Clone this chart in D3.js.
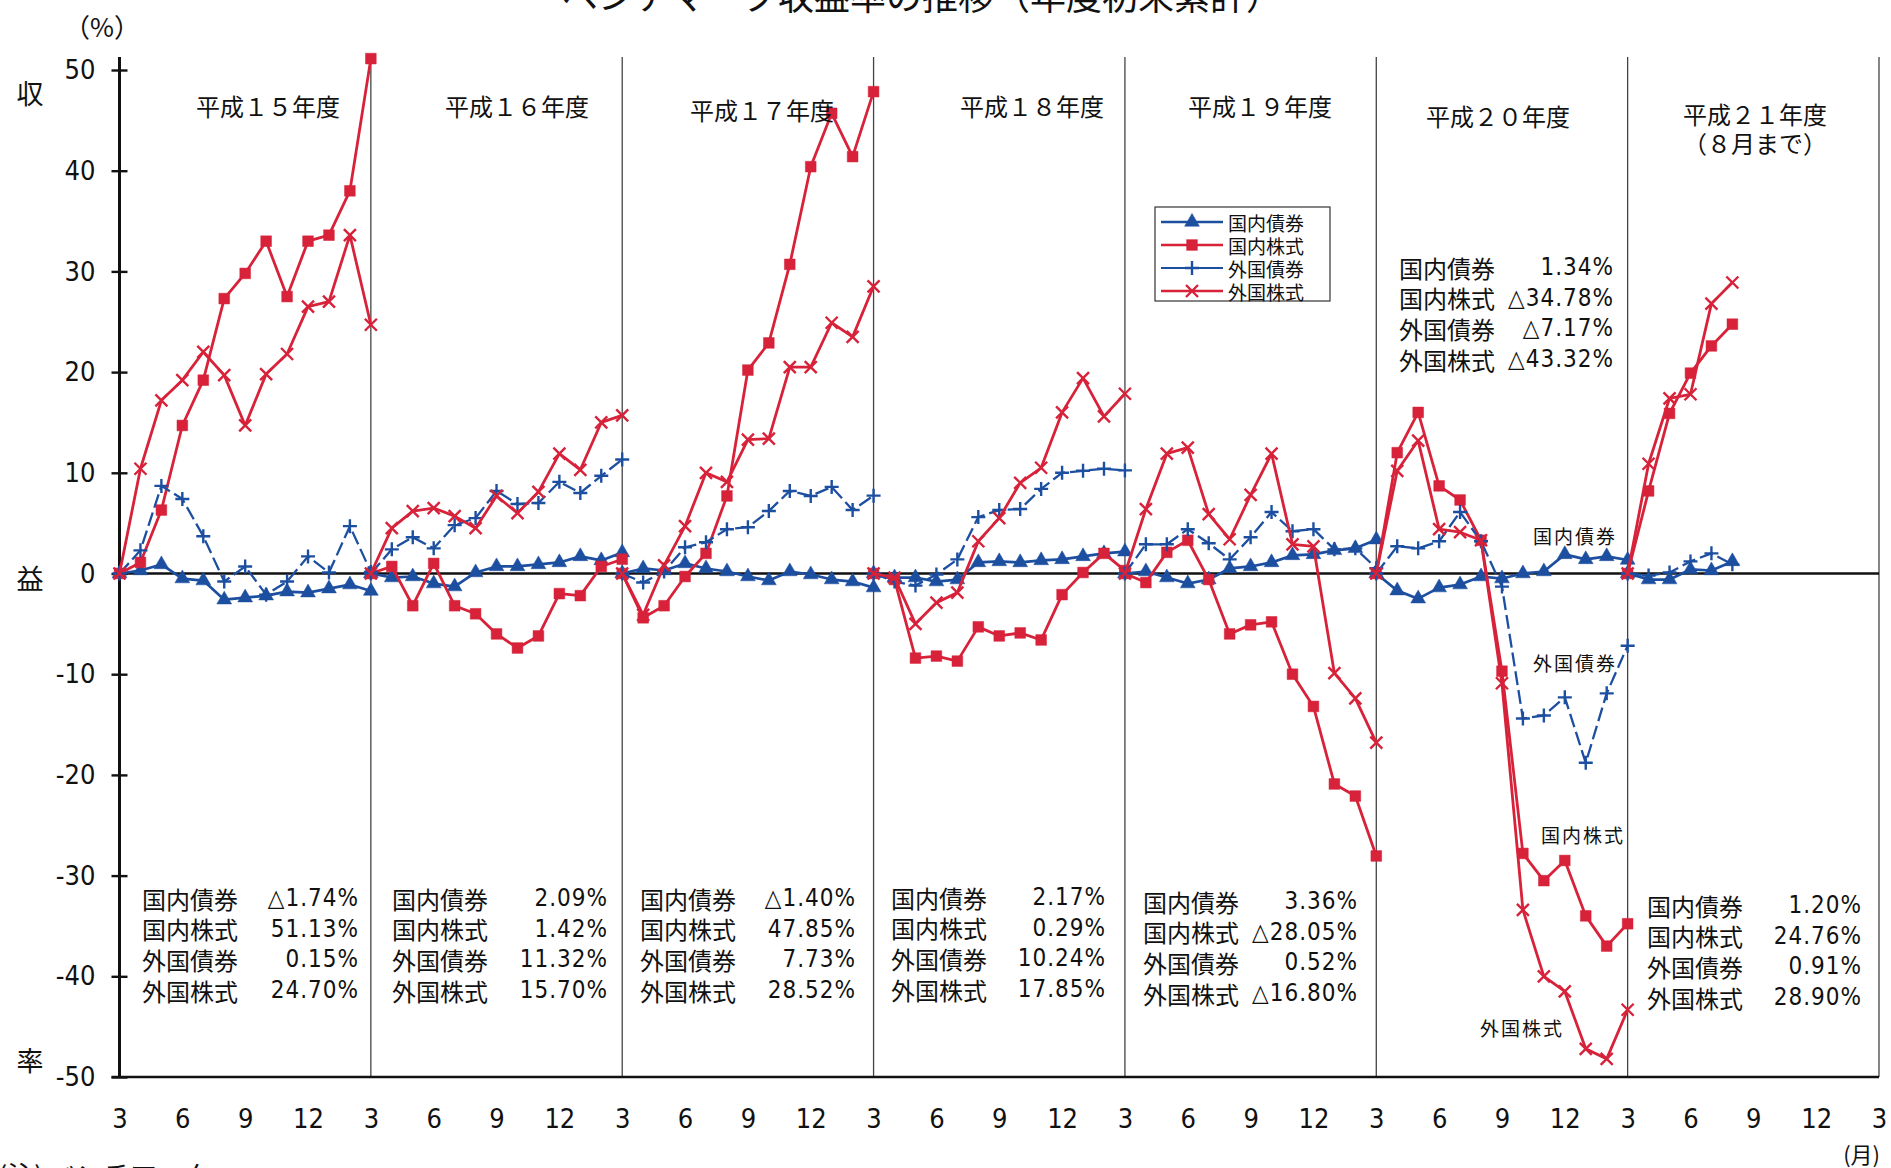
<!DOCTYPE html>
<html>
<head>
<meta charset="utf-8">
<script src="https://cdn.jsdelivr.net/npm/d3@7"></script>
<style>
  html, body { margin: 0; padding: 0; background: #fff; }
  svg { display: block; }
</style>
</head>
<body>
<svg class="chart"></svg>
<script>
//======
// Data
//======

var fiscalYears = ["平成１５年度", "平成１６年度", "平成１７年度", "平成１８年度", "平成１９年度", "平成２０年度", "平成２１年度"];
var monthTicks = ["3", "6", "9", "12"];
var seriesNames = ["国内債券", "国内株式", "外国債券", "外国株式"];

// cumulative return from start of each fiscal year (March = 0, then April ... March)
var domBond = [
  [0, 0.3, 0.9, -0.5, -0.7, -2.6, -2.4, -2.2, -1.8, -1.9, -1.5, -1.1, -1.74],
  [0, -0.4, -0.3, -1.0, -1.3, 0.1, 0.7, 0.7, 0.9, 1.1, 1.7, 1.3, 2.09],
  [0, 0.5, 0.3, 1.0, 0.5, 0.2, -0.3, -0.7, 0.2, -0.1, -0.6, -0.8, -1.40],
  [0, -0.4, -0.4, -0.8, -0.6, 1.1, 1.2, 1.1, 1.3, 1.4, 1.7, 2.0, 2.17],
  [0, 0.2, -0.4, -1.0, -0.6, 0.5, 0.7, 1.1, 1.8, 1.9, 2.3, 2.5, 3.36],
  [0, -1.7, -2.5, -1.4, -1.1, -0.3, -0.5, 0.0, 0.2, 1.9, 1.4, 1.7, 1.34],
  [0, -0.6, -0.6, 0.4, 0.3, 1.20]
];
var domStock = [
  [0, 1.1, 6.3, 14.7, 19.2, 27.3, 29.8, 33.0, 27.5, 33.0, 33.6, 38.0, 51.13],
  [0, 0.7, -3.2, 1.0, -3.2, -4.0, -6.0, -7.4, -6.2, -2.0, -2.2, 0.7, 1.42],
  [0, -4.4, -3.2, -0.3, 2.0, 7.7, 20.2, 22.9, 30.7, 40.4, 45.7, 41.4, 47.85],
  [0, -0.6, -8.4, -8.2, -8.7, -5.3, -6.2, -5.9, -6.6, -2.1, 0.1, 2.0, 0.29],
  [0, -0.9, 2.1, 3.3, -0.6, -6.0, -5.1, -4.8, -10.0, -13.2, -20.9, -22.1, -28.05],
  [0, 12.0, 16.0, 8.7, 7.3, 3.3, -9.7, -27.8, -30.5, -28.5, -34.0, -37.0, -34.78],
  [0, 8.2, 15.9, 19.9, 22.6, 24.76]
];
var forBond = [
  [0, 2.3, 8.7, 7.4, 3.7, -0.8, 0.7, -2.1, -0.8, 1.7, 0.1, 4.7, 0.15],
  [0, 2.4, 3.6, 2.5, 4.8, 5.5, 8.2, 6.9, 7.0, 9.1, 8.0, 9.7, 11.32],
  [0, -0.9, 0.2, 2.6, 3.1, 4.4, 4.6, 6.2, 8.2, 7.7, 8.6, 6.3, 7.73],
  [0, -0.8, -1.2, -0.1, 1.4, 5.6, 6.3, 6.4, 8.4, 10.0, 10.2, 10.4, 10.24],
  [0, 2.9, 2.9, 4.4, 3.0, 1.4, 3.6, 6.1, 4.2, 4.4, 2.4, 2.5, 0.52],
  [0, 2.7, 2.5, 3.2, 6.1, 3.2, -1.3, -14.4, -14.1, -12.3, -18.8, -11.9, -7.17],
  [0, -0.2, 0.1, 1.2, 2.0, 0.91]
];
var forStock = [
  [0, 10.4, 17.2, 19.2, 22.0, 19.7, 14.7, 19.8, 21.8, 26.5, 27.0, 33.6, 24.70],
  [0, 4.5, 6.2, 6.5, 5.7, 4.5, 7.7, 6.0, 8.1, 11.9, 10.3, 15.0, 15.70],
  [0, -4.1, 0.8, 4.7, 10.0, 9.1, 13.3, 13.4, 20.5, 20.5, 24.9, 23.5, 28.52],
  [0, -0.4, -5.0, -2.9, -1.9, 3.2, 5.5, 9.0, 10.5, 16.0, 19.4, 15.6, 17.85],
  [0, 6.4, 11.9, 12.5, 5.9, 3.4, 7.8, 11.9, 2.9, 2.7, -9.9, -12.4, -16.80],
  [0, 10.2, 13.2, 4.4, 4.1, 3.3, -10.9, -33.4, -40.0, -41.5, -47.2, -48.2, -43.32],
  [0, 10.9, 17.4, 17.8, 26.8, 28.90]
];

// year-end figures printed in each panel
var yearTotals = [
  ["△1.74%", "51.13%", "0.15%", "24.70%"],
  ["2.09%", "1.42%", "11.32%", "15.70%"],
  ["△1.40%", "47.85%", "7.73%", "28.52%"],
  ["2.17%", "0.29%", "10.24%", "17.85%"],
  ["3.36%", "△28.05%", "0.52%", "△16.80%"],
  ["1.34%", "△34.78%", "△7.17%", "△43.32%"],
  ["1.20%", "24.76%", "0.91%", "28.90%"]
];

//========
// Layout
//========

var W = 1891, H = 1168,
  BLUE = "#1d4fa0", RED = "#d7223a",
  JP = "'Noto Sans CJK JP','Noto Sans',sans-serif",
  NUM = "'DejaVu Sans','Liberation Sans',sans-serif";

// label x, value right edge, first row centre
var totalsPos = [
  { x: 142, xr: 359, y: 898 },
  { x: 392, xr: 608, y: 898 },
  { x: 640, xr: 856, y: 898 },
  { x: 891, xr: 1106, y: 897 },
  { x: 1143, xr: 1358, y: 901 },
  { x: 1399, xr: 1614, y: 267 },
  { x: 1647, xr: 1862, y: 905 }
];
var yearLabelPos = [
  { x: 268, y: 105 }, { x: 517, y: 105 }, { x: 762, y: 109 }, { x: 1032, y: 105 },
  { x: 1260, y: 105 }, { x: 1498, y: 115 }, { x: 1755, y: 113 }
];

var svg = d3.select(".chart")
  .attr("width", W)
  .attr("height", H)
  .style("background", "#fff");

var x = d3.scaleLinear().domain([0, 84]).range([119.5, 1879]);
var y = d3.scaleLinear().domain([-50, 50]).range([1077, 70]);

// year separators
svg.selectAll(".sep")
  .data(d3.range(1, 8))
  .enter()
  .append("line")
  .attr("x1", function(d) { return x(d * 12); })
  .attr("x2", function(d) { return x(d * 12); })
  .attr("y1", 57)
  .attr("y2", y(-50))
  .attr("stroke", "#444")
  .attr("stroke-width", 1.3);

// zero line and bottom line
svg.append("line")
  .attr("x1", x(0)).attr("x2", x(84))
  .attr("y1", y(0)).attr("y2", y(0))
  .attr("stroke", "#111").attr("stroke-width", 2.6);

svg.append("line")
  .attr("x1", x(0) - 8).attr("x2", x(84))
  .attr("y1", y(-50)).attr("y2", y(-50))
  .attr("stroke", "#111").attr("stroke-width", 2.6);

// y axis
var yAxis = svg.append("g")
  .attr("transform", "translate(" + x(0) + ",0)")
  .call(d3.axisLeft(y)
    .tickValues(d3.range(-50, 51, 10))
    .tickSize(8)
    .tickPadding(16)
    .tickFormat(function(d) { return String(d); }));

yAxis.select(".domain").remove();
yAxis.selectAll(".tick line").attr("x1", 8).attr("x2", -8).attr("stroke", "#111").attr("stroke-width", 2.4);
yAxis.selectAll(".tick text")
  .style("font-family", NUM).style("font-stretch", "condensed").style("font-size", "27px").attr("fill", "#111");

svg.append("line")
  .attr("x1", x(0)).attr("x2", x(0))
  .attr("y1", 57).attr("y2", y(-50))
  .attr("stroke", "#111").attr("stroke-width", 3);

// x axis
var xAxis = svg.append("g")
  .attr("transform", "translate(0," + y(-50) + ")")
  .call(d3.axisBottom(x)
    .tickValues(d3.range(0, 85, 3))
    .tickSize(0)
    .tickPadding(32)
    .tickFormat(function(d) { return monthTicks[(d / 3) % 4]; }));

xAxis.select(".domain").remove();
xAxis.selectAll(".tick text")
  .style("font-family", NUM).style("font-stretch", "condensed").style("font-size", "27px").attr("fill", "#111");

//========
// Series
//========

var series = [
  { name: seriesNames[0], data: domBond, color: BLUE, marker: "tri", width: 2.7, dash: null },
  { name: seriesNames[1], data: domStock, color: RED, marker: "sq", width: 2.8, dash: null },
  { name: seriesNames[2], data: forBond, color: BLUE, marker: "plus", width: 2.3, dash: "14,5" },
  { name: seriesNames[3], data: forStock, color: RED, marker: "x", width: 2.8, dash: null }
];

var line = d3.line()
  .x(function(d) { return x(d.m); })
  .y(function(d) { return y(d.v); });

function markerPath(type) {
  if (type === "tri") return d3.symbol().type(d3.symbolTriangle).size(95)();
  if (type === "sq") return d3.symbol().type(d3.symbolSquare).size(115)();
  if (type === "plus") return "M-7,0H7M0,-7V7";
  return "M-6,-6L6,6M-6,6L6,-6";
}

function drawMarker(sel, s) {
  sel.append("path")
    .attr("d", markerPath(s.marker))
    .attr("fill", (s.marker === "tri" || s.marker === "sq") ? s.color : "none")
    .attr("stroke", s.color)
    .attr("stroke-width", (s.marker === "tri" || s.marker === "sq") ? 0.5 : 2.4);
}

series.forEach(function(s) {
  var g = svg.append("g").attr("class", "series");
  s.data.forEach(function(vals, k) {
    var pts = vals.map(function(v, i) { return { m: k * 12 + i, v: v }; });
    g.append("path")
      .datum(pts)
      .attr("d", line)
      .attr("fill", "none")
      .attr("stroke", s.color)
      .attr("stroke-width", s.width)
      .attr("stroke-dasharray", s.dash)
      .attr("stroke-linejoin", "round");
    g.selectAll(null)
      .data(pts)
      .enter()
      .append("g")
      .attr("transform", function(d) { return "translate(" + x(d.m) + "," + y(d.v) + ")"; })
      .each(function() { drawMarker(d3.select(this), s); });
  });
});

//=======
// Texts
//=======

svg.append("text")
  .attr("x", 922).attr("y", 10)
  .attr("text-anchor", "middle")
  .style("font-family", JP).style("font-size", "36px").attr("fill", "#111")
  .text("ベンチマーク収益率の推移（年度初来累計）");

svg.append("text")
  .attr("x", 102).attr("y", 25)
  .attr("text-anchor", "middle").attr("dominant-baseline", "central")
  .style("font-family", JP).style("font-size", "26px").attr("fill", "#111")
  .text("（%）");

svg.selectAll(".side")
  .data([["収", 92], ["益", 577], ["率", 1059]])
  .enter()
  .append("text")
  .attr("x", 30).attr("y", function(d) { return d[1]; })
  .attr("text-anchor", "middle").attr("dominant-baseline", "central")
  .style("font-family", JP).style("font-size", "27px").attr("fill", "#111")
  .text(function(d) { return d[0]; });

svg.append("text")
  .attr("x", 1880).attr("y", 1153)
  .attr("text-anchor", "end").attr("dominant-baseline", "central")
  .style("font-family", JP).style("font-size", "22px").attr("fill", "#111")
  .text("(月)");

svg.append("text")
  .attr("x", -2).attr("y", 1186)
  .style("font-family", JP).style("font-size", "27px").attr("fill", "#111")
  .text("(注) ベンチマーク");

// fiscal year headings
svg.selectAll(".yearLabel")
  .data(fiscalYears)
  .enter()
  .append("text")
  .attr("x", function(d, i) { return yearLabelPos[i].x; })
  .attr("y", function(d, i) { return yearLabelPos[i].y; })
  .attr("text-anchor", "middle").attr("dominant-baseline", "central")
  .style("font-family", JP).style("font-size", "24px").attr("fill", "#111")
  .text(function(d) { return d; });

svg.append("text")
  .attr("x", 1755).attr("y", 142)
  .attr("text-anchor", "middle").attr("dominant-baseline", "central")
  .style("font-family", JP).style("font-size", "24px").attr("fill", "#111")
  .text("（８月まで）");

// year-end totals
yearTotals.forEach(function(vals, k) {
  var p = totalsPos[k];
  var g = svg.append("g");
  vals.forEach(function(v, r) {
    var yy = p.y + r * 30.7;
    g.append("text")
      .attr("x", p.x).attr("y", yy)
      .attr("dominant-baseline", "central")
      .style("font-family", JP).style("font-size", "24px").attr("fill", "#111")
      .text(seriesNames[r]);
    g.append("text")
      .attr("x", p.xr).attr("y", yy)
      .attr("text-anchor", "end").attr("dominant-baseline", "central")
      .style("font-family", NUM).style("font-stretch", "condensed").style("font-size", "24px")
      .style("letter-spacing", "1px").attr("fill", "#111")
      .text(v);
  });
});

// series labels inside the 平成20年度 panel
svg.selectAll(".seriesLabel")
  .data([[seriesNames[0], 1533, 535], [seriesNames[2], 1533, 662], [seriesNames[1], 1541, 834], [seriesNames[3], 1480, 1027]])
  .enter()
  .append("text")
  .attr("x", function(d) { return d[1]; })
  .attr("y", function(d) { return d[2]; })
  .attr("dominant-baseline", "central")
  .style("font-family", JP).style("font-size", "19px").style("letter-spacing", "2px").attr("fill", "#111")
  .text(function(d) { return d[0]; });

// legend
var legend = svg.append("g").attr("transform", "translate(1155,207)");
legend.append("rect")
  .attr("width", 175).attr("height", 94)
  .attr("fill", "#fff").attr("stroke", "#333").attr("stroke-width", 1.2);

series.forEach(function(s, i) {
  var row = legend.append("g").attr("transform", "translate(0," + (15 + i * 23) + ")");
  row.append("line")
    .attr("x1", 6).attr("x2", 68)
    .attr("stroke", s.color).attr("stroke-width", s.marker === "plus" ? 1.8 : 2.4);
  var m = row.append("g").attr("transform", "translate(37,0)");
  drawMarker(m, s);
  row.append("text")
    .attr("x", 73).attr("dominant-baseline", "central")
    .style("font-family", JP).style("font-size", "19px").attr("fill", "#111")
    .text(s.name);
});
</script>
</body>
</html>
